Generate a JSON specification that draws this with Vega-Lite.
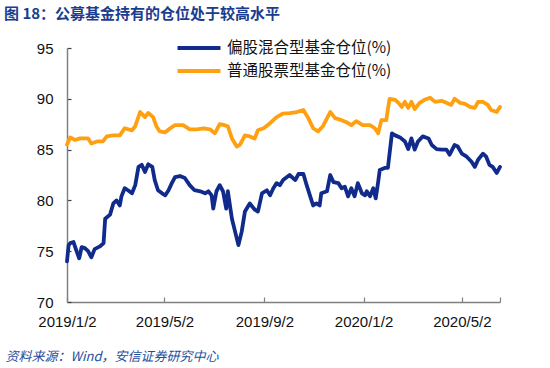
{
  "$schema": "https://vega.github.io/schema/vega-lite/v6.json",
  "autosize": {"type": "none"},
  "width": 433,
  "height": 254,
  "padding": {"left": 67, "top": 48, "right": 50, "bottom": 66},
  "background": "white",
  "config": {
    "view": {"stroke": null},
    "font": "Liberation Sans"
  },
  "title": {
    "text": "图 18：公募基金持有的仓位处于较高水平",
    "anchor": "start",
    "frame": "group",
    "dx": -63,
    "offset": 18,
    "fontSize": 15,
    "font": "Noto Sans CJK SC",
    "fontWeight": "bold",
    "color": "#1a3d8f"
  },
  "data": {
    "values": [
      {"date": "2019/01/02", "s": "偏股混合型基金仓位(%)", "v": 74.0},
      {"date": "2019/01/04", "s": "偏股混合型基金仓位(%)", "v": 75.6},
      {"date": "2019/01/06", "s": "偏股混合型基金仓位(%)", "v": 75.8},
      {"date": "2019/01/10", "s": "偏股混合型基金仓位(%)", "v": 75.9},
      {"date": "2019/01/14", "s": "偏股混合型基金仓位(%)", "v": 74.95},
      {"date": "2019/01/17", "s": "偏股混合型基金仓位(%)", "v": 74.3},
      {"date": "2019/01/20", "s": "偏股混合型基金仓位(%)", "v": 75.4},
      {"date": "2019/01/24", "s": "偏股混合型基金仓位(%)", "v": 75.3},
      {"date": "2019/01/28", "s": "偏股混合型基金仓位(%)", "v": 75.0},
      {"date": "2019/02/01", "s": "偏股混合型基金仓位(%)", "v": 74.4},
      {"date": "2019/02/05", "s": "偏股混合型基金仓位(%)", "v": 75.2},
      {"date": "2019/02/12", "s": "偏股混合型基金仓位(%)", "v": 75.5},
      {"date": "2019/02/16", "s": "偏股混合型基金仓位(%)", "v": 75.8},
      {"date": "2019/02/18", "s": "偏股混合型基金仓位(%)", "v": 78.2},
      {"date": "2019/02/24", "s": "偏股混合型基金仓位(%)", "v": 78.6},
      {"date": "2019/02/28", "s": "偏股混合型基金仓位(%)", "v": 79.7},
      {"date": "2019/03/04", "s": "偏股混合型基金仓位(%)", "v": 80.0},
      {"date": "2019/03/08", "s": "偏股混合型基金仓位(%)", "v": 79.5},
      {"date": "2019/03/10", "s": "偏股混合型基金仓位(%)", "v": 80.4},
      {"date": "2019/03/14", "s": "偏股混合型基金仓位(%)", "v": 81.2},
      {"date": "2019/03/18", "s": "偏股混合型基金仓位(%)", "v": 81.0},
      {"date": "2019/03/23", "s": "偏股混合型基金仓位(%)", "v": 80.7},
      {"date": "2019/03/27", "s": "偏股混合型基金仓位(%)", "v": 81.5},
      {"date": "2019/03/31", "s": "偏股混合型基金仓位(%)", "v": 83.3},
      {"date": "2019/04/04", "s": "偏股混合型基金仓位(%)", "v": 83.5},
      {"date": "2019/04/08", "s": "偏股混合型基金仓位(%)", "v": 82.8},
      {"date": "2019/04/12", "s": "偏股混合型基金仓位(%)", "v": 83.55},
      {"date": "2019/04/17", "s": "偏股混合型基金仓位(%)", "v": 83.3},
      {"date": "2019/04/20", "s": "偏股混合型基金仓位(%)", "v": 82.0},
      {"date": "2019/04/24", "s": "偏股混合型基金仓位(%)", "v": 81.0},
      {"date": "2019/04/29", "s": "偏股混合型基金仓位(%)", "v": 80.7},
      {"date": "2019/05/03", "s": "偏股混合型基金仓位(%)", "v": 80.5},
      {"date": "2019/05/07", "s": "偏股混合型基金仓位(%)", "v": 81.0},
      {"date": "2019/05/11", "s": "偏股混合型基金仓位(%)", "v": 81.7},
      {"date": "2019/05/15", "s": "偏股混合型基金仓位(%)", "v": 82.3},
      {"date": "2019/05/21", "s": "偏股混合型基金仓位(%)", "v": 82.4},
      {"date": "2019/05/27", "s": "偏股混合型基金仓位(%)", "v": 82.2},
      {"date": "2019/06/02", "s": "偏股混合型基金仓位(%)", "v": 81.5},
      {"date": "2019/06/08", "s": "偏股混合型基金仓位(%)", "v": 81.0},
      {"date": "2019/06/15", "s": "偏股混合型基金仓位(%)", "v": 80.9},
      {"date": "2019/06/21", "s": "偏股混合型基金仓位(%)", "v": 80.7},
      {"date": "2019/06/25", "s": "偏股混合型基金仓位(%)", "v": 80.9},
      {"date": "2019/06/29", "s": "偏股混合型基金仓位(%)", "v": 80.5},
      {"date": "2019/07/01", "s": "偏股混合型基金仓位(%)", "v": 79.2},
      {"date": "2019/07/05", "s": "偏股混合型基金仓位(%)", "v": 80.9},
      {"date": "2019/07/09", "s": "偏股混合型基金仓位(%)", "v": 81.5},
      {"date": "2019/07/13", "s": "偏股混合型基金仓位(%)", "v": 80.9},
      {"date": "2019/07/17", "s": "偏股混合型基金仓位(%)", "v": 79.2},
      {"date": "2019/07/19", "s": "偏股混合型基金仓位(%)", "v": 80.9},
      {"date": "2019/07/24", "s": "偏股混合型基金仓位(%)", "v": 78.2},
      {"date": "2019/07/28", "s": "偏股混合型基金仓位(%)", "v": 76.9},
      {"date": "2019/08/01", "s": "偏股混合型基金仓位(%)", "v": 75.6},
      {"date": "2019/08/05", "s": "偏股混合型基金仓位(%)", "v": 76.9},
      {"date": "2019/08/09", "s": "偏股混合型基金仓位(%)", "v": 78.9},
      {"date": "2019/08/15", "s": "偏股混合型基金仓位(%)", "v": 79.7},
      {"date": "2019/08/21", "s": "偏股混合型基金仓位(%)", "v": 79.1},
      {"date": "2019/08/25", "s": "偏股混合型基金仓位(%)", "v": 78.9},
      {"date": "2019/08/30", "s": "偏股混合型基金仓位(%)", "v": 80.7},
      {"date": "2019/09/05", "s": "偏股混合型基金仓位(%)", "v": 81.0},
      {"date": "2019/09/09", "s": "偏股混合型基金仓位(%)", "v": 80.5},
      {"date": "2019/09/13", "s": "偏股混合型基金仓位(%)", "v": 81.2},
      {"date": "2019/09/17", "s": "偏股混合型基金仓位(%)", "v": 81.7},
      {"date": "2019/09/21", "s": "偏股混合型基金仓位(%)", "v": 81.5},
      {"date": "2019/09/25", "s": "偏股混合型基金仓位(%)", "v": 82.0},
      {"date": "2019/10/03", "s": "偏股混合型基金仓位(%)", "v": 82.5},
      {"date": "2019/10/10", "s": "偏股混合型基金仓位(%)", "v": 82.0},
      {"date": "2019/10/14", "s": "偏股混合型基金仓位(%)", "v": 82.6},
      {"date": "2019/10/20", "s": "偏股混合型基金仓位(%)", "v": 82.6},
      {"date": "2019/10/24", "s": "偏股混合型基金仓位(%)", "v": 81.5},
      {"date": "2019/10/28", "s": "偏股混合型基金仓位(%)", "v": 80.5},
      {"date": "2019/11/01", "s": "偏股混合型基金仓位(%)", "v": 79.5},
      {"date": "2019/11/05", "s": "偏股混合型基金仓位(%)", "v": 79.7},
      {"date": "2019/11/09", "s": "偏股混合型基金仓位(%)", "v": 79.5},
      {"date": "2019/11/11", "s": "偏股混合型基金仓位(%)", "v": 80.7},
      {"date": "2019/11/18", "s": "偏股混合型基金仓位(%)", "v": 80.9},
      {"date": "2019/11/22", "s": "偏股混合型基金仓位(%)", "v": 82.5},
      {"date": "2019/11/26", "s": "偏股混合型基金仓位(%)", "v": 81.8},
      {"date": "2019/12/02", "s": "偏股混合型基金仓位(%)", "v": 81.7},
      {"date": "2019/12/06", "s": "偏股混合型基金仓位(%)", "v": 81.2},
      {"date": "2019/12/10", "s": "偏股混合型基金仓位(%)", "v": 81.35},
      {"date": "2019/12/14", "s": "偏股混合型基金仓位(%)", "v": 80.4},
      {"date": "2019/12/18", "s": "偏股混合型基金仓位(%)", "v": 81.2},
      {"date": "2019/12/22", "s": "偏股混合型基金仓位(%)", "v": 80.4},
      {"date": "2019/12/26", "s": "偏股混合型基金仓位(%)", "v": 81.7},
      {"date": "2019/12/31", "s": "偏股混合型基金仓位(%)", "v": 80.7},
      {"date": "2020/01/04", "s": "偏股混合型基金仓位(%)", "v": 80.5},
      {"date": "2020/01/06", "s": "偏股混合型基金仓位(%)", "v": 80.9},
      {"date": "2020/01/10", "s": "偏股混合型基金仓位(%)", "v": 80.4},
      {"date": "2020/01/14", "s": "偏股混合型基金仓位(%)", "v": 81.2},
      {"date": "2020/01/17", "s": "偏股混合型基金仓位(%)", "v": 80.2},
      {"date": "2020/01/20", "s": "偏股混合型基金仓位(%)", "v": 81.8},
      {"date": "2020/01/22", "s": "偏股混合型基金仓位(%)", "v": 83.0},
      {"date": "2020/01/28", "s": "偏股混合型基金仓位(%)", "v": 83.2},
      {"date": "2020/02/01", "s": "偏股混合型基金仓位(%)", "v": 83.2},
      {"date": "2020/02/06", "s": "偏股混合型基金仓位(%)", "v": 86.6},
      {"date": "2020/02/10", "s": "偏股混合型基金仓位(%)", "v": 86.4},
      {"date": "2020/02/16", "s": "偏股混合型基金仓位(%)", "v": 86.2},
      {"date": "2020/02/22", "s": "偏股混合型基金仓位(%)", "v": 85.8},
      {"date": "2020/02/26", "s": "偏股混合型基金仓位(%)", "v": 85.05},
      {"date": "2020/03/01", "s": "偏股混合型基金仓位(%)", "v": 86.1},
      {"date": "2020/03/05", "s": "偏股混合型基金仓位(%)", "v": 85.0},
      {"date": "2020/03/09", "s": "偏股混合型基金仓位(%)", "v": 85.8},
      {"date": "2020/03/15", "s": "偏股混合型基金仓位(%)", "v": 86.3},
      {"date": "2020/03/22", "s": "偏股混合型基金仓位(%)", "v": 86.1},
      {"date": "2020/03/26", "s": "偏股混合型基金仓位(%)", "v": 85.45},
      {"date": "2020/04/01", "s": "偏股混合型基金仓位(%)", "v": 85.05},
      {"date": "2020/04/07", "s": "偏股混合型基金仓位(%)", "v": 85.0},
      {"date": "2020/04/13", "s": "偏股混合型基金仓位(%)", "v": 85.0},
      {"date": "2020/04/17", "s": "偏股混合型基金仓位(%)", "v": 84.5},
      {"date": "2020/04/23", "s": "偏股混合型基金仓位(%)", "v": 85.45},
      {"date": "2020/04/27", "s": "偏股混合型基金仓位(%)", "v": 85.3},
      {"date": "2020/05/02", "s": "偏股混合型基金仓位(%)", "v": 84.6},
      {"date": "2020/05/08", "s": "偏股混合型基金仓位(%)", "v": 84.3},
      {"date": "2020/05/14", "s": "偏股混合型基金仓位(%)", "v": 83.8},
      {"date": "2020/05/18", "s": "偏股混合型基金仓位(%)", "v": 83.3},
      {"date": "2020/05/22", "s": "偏股混合型基金仓位(%)", "v": 84.0},
      {"date": "2020/05/28", "s": "偏股混合型基金仓位(%)", "v": 84.6},
      {"date": "2020/06/01", "s": "偏股混合型基金仓位(%)", "v": 84.3},
      {"date": "2020/06/05", "s": "偏股混合型基金仓位(%)", "v": 83.5},
      {"date": "2020/06/09", "s": "偏股混合型基金仓位(%)", "v": 83.3},
      {"date": "2020/06/14", "s": "偏股混合型基金仓位(%)", "v": 82.7},
      {"date": "2020/06/18", "s": "偏股混合型基金仓位(%)", "v": 83.3},

      {"date": "2019/01/02", "s": "普通股票型基金仓位(%)", "v": 85.5},
      {"date": "2019/01/06", "s": "普通股票型基金仓位(%)", "v": 86.2},
      {"date": "2019/01/12", "s": "普通股票型基金仓位(%)", "v": 85.95},
      {"date": "2019/01/18", "s": "普通股票型基金仓位(%)", "v": 86.1},
      {"date": "2019/01/28", "s": "普通股票型基金仓位(%)", "v": 86.1},
      {"date": "2019/02/01", "s": "普通股票型基金仓位(%)", "v": 85.6},
      {"date": "2019/02/08", "s": "普通股票型基金仓位(%)", "v": 85.8},
      {"date": "2019/02/15", "s": "普通股票型基金仓位(%)", "v": 85.8},
      {"date": "2019/02/20", "s": "普通股票型基金仓位(%)", "v": 86.3},
      {"date": "2019/02/28", "s": "普通股票型基金仓位(%)", "v": 86.4},
      {"date": "2019/03/08", "s": "普通股票型基金仓位(%)", "v": 86.4},
      {"date": "2019/03/14", "s": "普通股票型基金仓位(%)", "v": 87.1},
      {"date": "2019/03/23", "s": "普通股票型基金仓位(%)", "v": 86.9},
      {"date": "2019/03/27", "s": "普通股票型基金仓位(%)", "v": 87.3},
      {"date": "2019/04/02", "s": "普通股票型基金仓位(%)", "v": 88.7},
      {"date": "2019/04/08", "s": "普通股票型基金仓位(%)", "v": 88.2},
      {"date": "2019/04/12", "s": "普通股票型基金仓位(%)", "v": 88.6},
      {"date": "2019/04/18", "s": "普通股票型基金仓位(%)", "v": 88.2},
      {"date": "2019/04/22", "s": "普通股票型基金仓位(%)", "v": 87.3},
      {"date": "2019/04/26", "s": "普通股票型基金仓位(%)", "v": 86.8},
      {"date": "2019/05/03", "s": "普通股票型基金仓位(%)", "v": 86.7},
      {"date": "2019/05/09", "s": "普通股票型基金仓位(%)", "v": 87.1},
      {"date": "2019/05/15", "s": "普通股票型基金仓位(%)", "v": 87.4},
      {"date": "2019/05/25", "s": "普通股票型基金仓位(%)", "v": 87.4},
      {"date": "2019/06/02", "s": "普通股票型基金仓位(%)", "v": 87.0},
      {"date": "2019/06/11", "s": "普通股票型基金仓位(%)", "v": 87.0},
      {"date": "2019/06/19", "s": "普通股票型基金仓位(%)", "v": 87.1},
      {"date": "2019/06/27", "s": "普通股票型基金仓位(%)", "v": 87.0},
      {"date": "2019/07/03", "s": "普通股票型基金仓位(%)", "v": 86.6},
      {"date": "2019/07/09", "s": "普通股票型基金仓位(%)", "v": 87.5},
      {"date": "2019/07/15", "s": "普通股票型基金仓位(%)", "v": 87.4},
      {"date": "2019/07/19", "s": "普通股票型基金仓位(%)", "v": 87.3},
      {"date": "2019/07/24", "s": "普通股票型基金仓位(%)", "v": 86.1},
      {"date": "2019/07/30", "s": "普通股票型基金仓位(%)", "v": 85.3},
      {"date": "2019/08/03", "s": "普通股票型基金仓位(%)", "v": 85.5},
      {"date": "2019/08/09", "s": "普通股票型基金仓位(%)", "v": 86.4},
      {"date": "2019/08/15", "s": "普通股票型基金仓位(%)", "v": 86.3},
      {"date": "2019/08/21", "s": "普通股票型基金仓位(%)", "v": 86.1},
      {"date": "2019/08/25", "s": "普通股票型基金仓位(%)", "v": 86.9},
      {"date": "2019/09/01", "s": "普通股票型基金仓位(%)", "v": 87.1},
      {"date": "2019/09/09", "s": "普通股票型基金仓位(%)", "v": 87.6},
      {"date": "2019/09/17", "s": "普通股票型基金仓位(%)", "v": 88.2},
      {"date": "2019/09/25", "s": "普通股票型基金仓位(%)", "v": 88.55},
      {"date": "2019/10/03", "s": "普通股票型基金仓位(%)", "v": 88.6},
      {"date": "2019/10/12", "s": "普通股票型基金仓位(%)", "v": 88.7},
      {"date": "2019/10/20", "s": "普通股票型基金仓位(%)", "v": 88.9},
      {"date": "2019/10/26", "s": "普通股票型基金仓位(%)", "v": 88.1},
      {"date": "2019/11/01", "s": "普通股票型基金仓位(%)", "v": 87.1},
      {"date": "2019/11/07", "s": "普通股票型基金仓位(%)", "v": 86.8},
      {"date": "2019/11/13", "s": "普通股票型基金仓位(%)", "v": 87.3},
      {"date": "2019/11/22", "s": "普通股票型基金仓位(%)", "v": 88.7},
      {"date": "2019/11/28", "s": "普通股票型基金仓位(%)", "v": 88.1},
      {"date": "2019/12/06", "s": "普通股票型基金仓位(%)", "v": 87.9},
      {"date": "2019/12/12", "s": "普通股票型基金仓位(%)", "v": 87.7},
      {"date": "2019/12/18", "s": "普通股票型基金仓位(%)", "v": 87.4},
      {"date": "2019/12/24", "s": "普通股票型基金仓位(%)", "v": 87.8},
      {"date": "2020/01/01", "s": "普通股票型基金仓位(%)", "v": 87.4},
      {"date": "2020/01/10", "s": "普通股票型基金仓位(%)", "v": 87.4},
      {"date": "2020/01/16", "s": "普通股票型基金仓位(%)", "v": 87.1},
      {"date": "2020/01/20", "s": "普通股票型基金仓位(%)", "v": 86.6},
      {"date": "2020/01/24", "s": "普通股票型基金仓位(%)", "v": 87.9},
      {"date": "2020/01/30", "s": "普通股票型基金仓位(%)", "v": 87.9},
      {"date": "2020/02/03", "s": "普通股票型基金仓位(%)", "v": 90.0},
      {"date": "2020/02/10", "s": "普通股票型基金仓位(%)", "v": 89.9},
      {"date": "2020/02/14", "s": "普通股票型基金仓位(%)", "v": 89.6},
      {"date": "2020/02/18", "s": "普通股票型基金仓位(%)", "v": 89.2},
      {"date": "2020/02/22", "s": "普通股票型基金仓位(%)", "v": 89.7},
      {"date": "2020/02/26", "s": "普通股票型基金仓位(%)", "v": 89.1},
      {"date": "2020/03/01", "s": "普通股票型基金仓位(%)", "v": 89.7},
      {"date": "2020/03/05", "s": "普通股票型基金仓位(%)", "v": 89.0},
      {"date": "2020/03/11", "s": "普通股票型基金仓位(%)", "v": 89.6},
      {"date": "2020/03/17", "s": "普通股票型基金仓位(%)", "v": 89.9},
      {"date": "2020/03/24", "s": "普通股票型基金仓位(%)", "v": 90.1},
      {"date": "2020/03/30", "s": "普通股票型基金仓位(%)", "v": 89.7},
      {"date": "2020/04/07", "s": "普通股票型基金仓位(%)", "v": 89.8},
      {"date": "2020/04/13", "s": "普通股票型基金仓位(%)", "v": 89.6},
      {"date": "2020/04/19", "s": "普通股票型基金仓位(%)", "v": 89.4},
      {"date": "2020/04/23", "s": "普通股票型基金仓位(%)", "v": 90.0},
      {"date": "2020/04/30", "s": "普通股票型基金仓位(%)", "v": 89.6},
      {"date": "2020/05/06", "s": "普通股票型基金仓位(%)", "v": 89.5},
      {"date": "2020/05/12", "s": "普通股票型基金仓位(%)", "v": 89.2},
      {"date": "2020/05/18", "s": "普通股票型基金仓位(%)", "v": 89.1},
      {"date": "2020/05/22", "s": "普通股票型基金仓位(%)", "v": 89.7},
      {"date": "2020/05/28", "s": "普通股票型基金仓位(%)", "v": 89.7},
      {"date": "2020/06/03", "s": "普通股票型基金仓位(%)", "v": 89.4},
      {"date": "2020/06/07", "s": "普通股票型基金仓位(%)", "v": 88.9},
      {"date": "2020/06/14", "s": "普通股票型基金仓位(%)", "v": 88.7},
      {"date": "2020/06/18", "s": "普通股票型基金仓位(%)", "v": 89.2}
    ]
  },
  "mark": {"type": "line", "strokeWidth": 3.8, "strokeJoin": "round", "strokeCap": "round"},
  "encoding": {
    "x": {
      "field": "date",
      "type": "temporal",
      "scale": {
        "domain": [{"year": 2019, "month": 1, "date": 2}, {"year": 2020, "month": 6, "date": 18}]
      },
      "axis": {
        "values": [
          {"year": 2019, "month": 1, "date": 2},
          {"year": 2019, "month": 5, "date": 2},
          {"year": 2019, "month": 9, "date": 2},
          {"year": 2020, "month": 1, "date": 2},
          {"year": 2020, "month": 5, "date": 2},
          {"year": 2020, "month": 6, "date": 18}
        ],
        "format": "%Y/%-m/%-d",
        "labelExpr": "datum.value > datetime(2020, 5, 10) ? '' : datum.label",
        "grid": false,
        "domainColor": "#808080",
        "domainWidth": 1.5,
        "tickColor": "#808080",
        "tickSize": -5,
        "tickWidth": 1.2,
        "labelFont": "Liberation Sans",
        "labelFontSize": 15,
        "labelColor": "#111111",
        "labelPadding": 17,
        "labelFlush": false,
        "labelOverlap": false,
        "title": "资料来源：Wind，安信证券研究中心",
        "titleFont": "Noto Sans CJK SC",
        "titleFontSize": 13,
        "titleFontStyle": "italic",
        "titleFontWeight": "normal",
        "titleColor": "#1f4e9c",
        "titleAnchor": "start",
        "titleAlign": "left",
        "titleBaseline": "alphabetic",
        "titleX": -62,
        "titleY": 58
      }
    },
    "y": {
      "field": "v",
      "type": "quantitative",
      "scale": {"domain": [70, 95], "nice": false, "zero": false},
      "axis": {
        "values": [70, 75, 80, 85, 90, 95],
        "grid": false,
        "domainColor": "#808080",
        "domainWidth": 1.5,
        "tickColor": "#404040",
        "tickSize": -4,
        "tickWidth": 1.2,
        "labelFont": "Liberation Sans",
        "labelFontSize": 15,
        "labelColor": "#111111",
        "labelPadding": 18,
        "title": null
      }
    },
    "color": {
      "field": "s",
      "type": "nominal",
      "scale": {
        "domain": ["偏股混合型基金仓位(%)", "普通股票型基金仓位(%)"],
        "range": ["#102b8c", "#ffa010"]
      },
      "legend": {
        "title": null,
        "orient": "none",
        "legendX": 108,
        "legendY": -8,
        "symbolType": "stroke",
        "symbolStrokeWidth": 4,
        "symbolSize": 1850,
        "clipHeight": 16,
        "labelFont": "Noto Sans CJK SC",
        "labelFontSize": 15.5,
        "labelLimit": 300,
        "labelColor": "#111111",
        "labelOffset": 4,
        "rowPadding": 6,
        "padding": 0
      }
    }
  }
}
